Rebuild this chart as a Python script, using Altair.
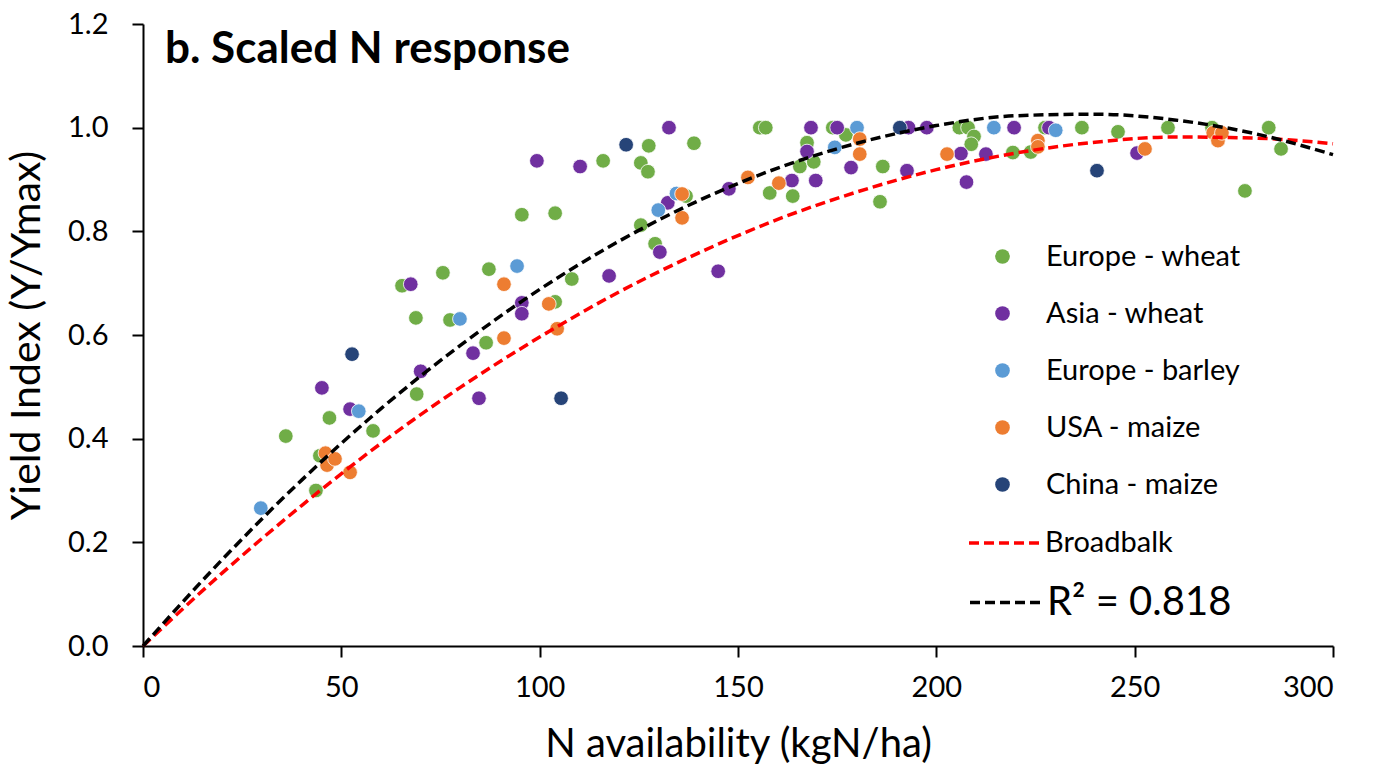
import altair as alt
import pandas as pd

series_names = ["Europe - wheat", "Asia - wheat", "Europe - barley", "USA - maize", "China - maize"]
series_colors = ["#70AD47", "#7030A0", "#5B9BD5", "#ED7D31", "#264478"]

eu_wheat_x = [36, 43.6, 44.6, 47, 58, 65.3, 68.8, 69, 75.6, 77.4, 86.5, 87.2, 95.5, 103.9, 103.9,
              108.1, 116, 125.5, 125.5, 127.5, 127.3, 129.1, 136.9, 138.9, 155.5, 157, 158, 163.8,
              165.6, 167.4, 169.1, 173.9, 177.2, 185.8, 186.5, 205.8, 208, 209.5, 208.8, 219.3,
              223.8, 227.4, 236.7, 245.8, 258.4, 269.5, 277.8, 283.8, 286.9]
eu_wheat_y = [0.405, 0.30, 0.367, 0.44, 0.415, 0.695, 0.633, 0.486, 0.72, 0.629, 0.585, 0.727, 0.832,
              0.664, 0.835, 0.708, 0.936, 0.932, 0.812, 0.965, 0.915, 0.776, 0.868, 0.970, 1.0, 1.0,
              0.874, 0.868, 0.925, 0.971, 0.934, 1.0, 0.986, 0.857, 0.925, 1.0, 1.0, 0.983, 0.968,
              0.952, 0.953, 1.0, 1.0, 0.992, 1.0, 1.0, 0.878, 1.0, 0.959]

asia_wheat_x = [45.1, 52.2, 67.5, 70, 83.2, 84.7, 95.5, 95.5, 99.3, 110.2, 117.5, 130.3, 132.3, 132.6,
                145, 147.7, 163.6, 167.4, 168.4, 169.6, 175, 178.5, 192.6, 193, 197.6, 206.2, 207.6,
                212.5, 219.6, 228.4, 250.6]
asia_wheat_y = [0.498, 0.457, 0.698, 0.53, 0.565, 0.478, 0.662, 0.641, 0.936, 0.925, 0.714, 0.760,
                0.855, 1.0, 0.723, 0.882, 0.898, 0.954, 1.0, 0.898, 1.0, 0.923, 0.917, 1.0, 1.0, 0.950,
                0.895, 0.949, 1.0, 1.0, 0.951]

eu_barley_x = [29.7, 54.4, 79.9, 94.3, 129.9, 134.5, 174.4, 180, 214.5, 230.1]
eu_barley_y = [0.266, 0.453, 0.631, 0.733, 0.841, 0.873, 0.962, 1.0, 1.0, 0.995]

usa_maize_x = [46, 46.4, 48.4, 52.2, 91, 91, 102.3, 104.4, 135.9, 135.9, 152.5, 160.3, 180.7, 180.7,
               202.7, 225.6, 225.6, 252.6, 269.8, 271, 272]
usa_maize_y = [0.372, 0.349, 0.361, 0.335, 0.698, 0.594, 0.66, 0.612, 0.872, 0.826, 0.904, 0.893,
               0.978, 0.949, 0.949, 0.975, 0.963, 0.959, 0.99, 0.975, 0.99]

china_maize_x = [52.7, 105.4, 121.8, 190.8, 240.5]
china_maize_y = [0.563, 0.478, 0.967, 1.0, 0.917]

curve_x = [0, 20, 40, 60, 80, 100, 120, 140, 160, 180, 200, 220, 240, 260, 280, 300]
broadbalk_y = [0, 0.141, 0.271, 0.391, 0.499, 0.596, 0.683, 0.758, 0.823, 0.876, 0.919, 0.951,
               0.972, 0.982, 0.980, 0.969]
fit_y = [0, 0.167, 0.320, 0.458, 0.580, 0.688, 0.781, 0.859, 0.922, 0.970, 1.004, 1.023, 1.026,
         1.015, 0.989, 0.948]

FONT = "Lato"

rows = []
idx = 0
for name, xs, ys in zip(series_names,
                        [eu_wheat_x, asia_wheat_x, eu_barley_x, usa_maize_x, china_maize_x],
                        [eu_wheat_y, asia_wheat_y, eu_barley_y, usa_maize_y, china_maize_y]):
    for x, y in zip(xs, ys):
        rows.append({"series": name, "N": x, "Y": y, "idx": idx})
        idx += 1
pts = pd.DataFrame(rows)

bb_df = pd.DataFrame({"curve": "Broadbalk", "N": curve_x, "Y": broadbalk_y})
fit_df = pd.DataFrame({"curve": "R² = 0.818", "N": curve_x, "Y": fit_y})

x_scale = alt.Scale(domain=[0, 300], nice=False)
y_scale = alt.Scale(domain=[0, 1.2], nice=False)

common_axis = dict(grid=False, domainColor="black", domainWidth=2, tickColor="black",
                   tickWidth=2, tickSize=11, labelFontSize=29, labelFont=FONT,
                   labelColor="black", titleFont=FONT,
                   titleFontWeight="normal", titleColor="black")

x_axis = alt.Axis(title="N availability (kgN/ha)", values=[0, 50, 100, 150, 200, 250, 300],
                  labelPadding=16, titlePadding=22, titleFontSize=40, **common_axis)
y_axis = alt.Axis(title="Yield Index (Y/Ymax)", values=[0, 0.2, 0.4, 0.6, 0.8, 1.0, 1.2],
                  format=".1f", labelPadding=24, titlePadding=19, titleFontSize=41, **common_axis)

points = alt.Chart(pts).mark_circle(size=215, opacity=1, stroke="white", strokeWidth=0.8).encode(
    x=alt.X("N:Q", scale=x_scale, axis=x_axis),
    y=alt.Y("Y:Q", scale=y_scale, axis=y_axis),
    fill=alt.Fill("series:N",
                  scale=alt.Scale(domain=series_names, range=series_colors),
                  legend=alt.Legend(orient="none", legendX=845, legendY=218, title=None,
                                    labelFontSize=29, labelFont=FONT, labelColor="black",
                                    labelLimit=0, symbolSize=215, symbolType="circle",
                                    rowPadding=27, labelOffset=29, symbolStrokeWidth=0)),
    order=alt.Order("idx:Q"),
)

bb_line = alt.Chart(bb_df).mark_line(strokeWidth=3.5, strokeDash=[10, 5], interpolate="monotone").encode(
    x=alt.X("N:Q", scale=x_scale),
    y=alt.Y("Y:Q", scale=y_scale),
    stroke=alt.Stroke("curve:N",
                      scale=alt.Scale(domain=["Broadbalk"], range=["#FF0000"]),
                      legend=alt.Legend(orient="none", legendX=824, legendY=482, title=None,
                                        labelFontSize=29, labelFont=FONT, labelColor="black",
                                        labelLimit=0, symbolType="stroke", symbolSize=4900,
                                        symbolStrokeWidth=3.5, symbolDash=[10, 5],
                                        labelOffset=4)),
)

fit_line = alt.Chart(fit_df).mark_line(strokeWidth=3.5, strokeDash=[10, 5], interpolate="monotone").encode(
    x=alt.X("N:Q", scale=x_scale),
    y=alt.Y("Y:Q", scale=y_scale),
    color=alt.Color("curve:N",
                    scale=alt.Scale(domain=["R² = 0.818"], range=["#000000"]),
                    legend=alt.Legend(orient="none", legendX=825, legendY=539, title=None,
                                      labelFontSize=40, labelFont=FONT, labelColor="black",
                                      labelLimit=0, symbolType="stroke", symbolSize=5625,
                                      symbolStrokeWidth=3.5, symbolDash=[10, 5],
                                      labelOffset=0)),
)

title_df = pd.DataFrame({"t": ["b. Scaled N response"]})
title = alt.Chart(title_df).mark_text(align="left", baseline="middle", fontSize=44,
                                       fontWeight="bold", font=FONT, color="black").encode(
    x=alt.value(22), y=alt.value(26), text="t:N")

chart = alt.layer(points, bb_line, fit_line, title).resolve_scale(
    fill="independent", stroke="independent", color="independent").properties(
    width=1190, height=622,
    autosize=alt.AutoSizeParams(type="none"),
    padding={"left": 143, "top": 24, "right": 49, "bottom": 128},
    background="white",
).configure_view(stroke=None)

chart.save("out.html", embed_options={"renderer": "svg", "actions": False})
